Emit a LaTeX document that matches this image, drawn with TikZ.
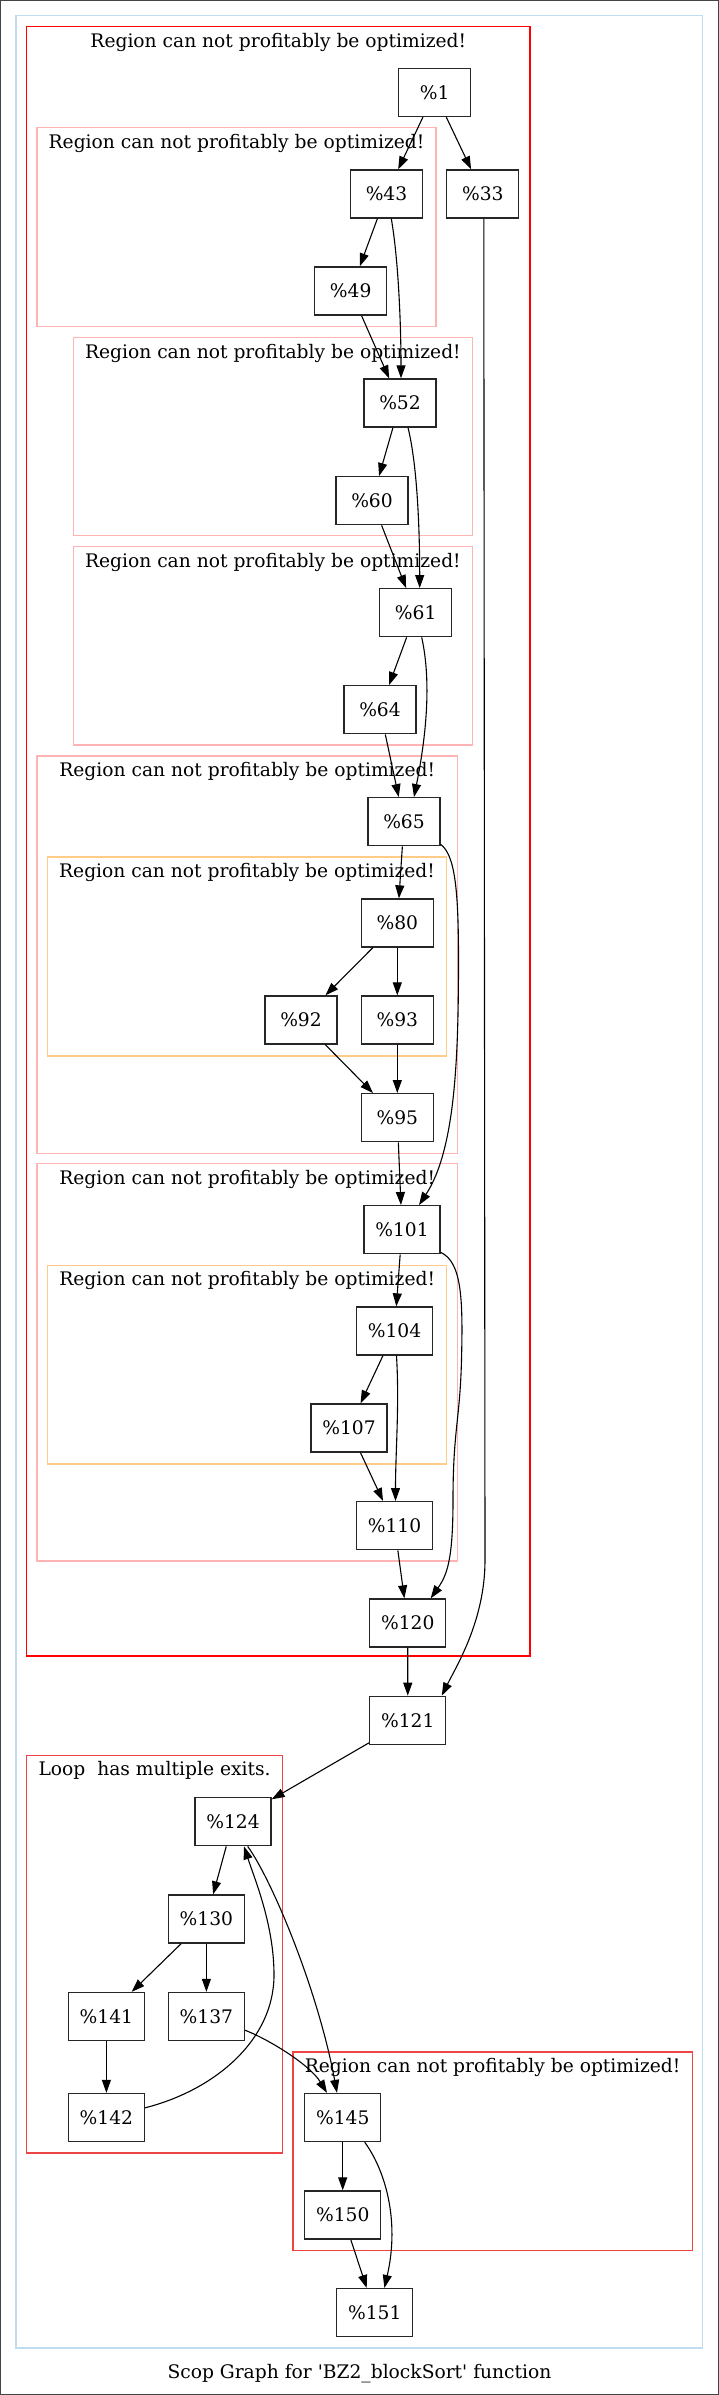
\documentclass[tikz,border=0pt]{standalone}
\usepackage{fontspec}
\setmainfont{DejaVu Serif}
\usetikzlibrary{arrows.meta}
\definecolor{cblue}{HTML}{BFDDEE}
\definecolor{cred}{HTML}{FF0000}
\definecolor{cpink}{HTML}{FFB3B3}
\definecolor{corange}{HTML}{FFCC88}
\definecolor{cred2}{HTML}{EE4444}
\definecolor{frame}{HTML}{444444}
\newcommand\gvfont{\fontsize{18.67}{22}\selectfont}
\begin{document}
\begin{tikzpicture}[x=1pt,y=-1pt,
  box/.style={draw=black!85, line width=1.33pt, minimum width=72pt, minimum height=48pt, inner sep=0pt, font=\gvfont},
  wbox/.style={box, minimum width=76pt},
  clu/.style={line width=1.1pt},
  ttl/.style={anchor=base, font=\gvfont, inner sep=0pt},
  e/.style={line width=1.1pt, -{Triangle[length=13pt,width=9pt]}}]
\useasboundingbox (0,0) rectangle (719,2395);
\draw[frame, line width=1.3pt] (0.65,0.65) rectangle (718.35,2394.35);
% clusters
\draw[clu, cblue] (16,15.7) rectangle (702.7,2348);
\draw[clu, cred] (26.6,26.7) rectangle (530,1656);
\draw[clu, cpink] (37,127.3) rectangle (436,326.7);
\draw[clu, cpink] (73.4,337.3) rectangle (472.3,535.7);
\draw[clu, cpink] (73.4,546.7) rectangle (472.3,745);
\draw[clu, cpink] (37,756) rectangle (457.3,1153.3);
\draw[clu, corange] (47.7,857) rectangle (446.3,1056);
\draw[clu, cpink] (37,1163.7) rectangle (457.3,1561);
\draw[clu, corange] (47.7,1265.3) rectangle (446.7,1464);
\draw[clu, cred2] (26.6,1755.4) rectangle (282.6,2153);
\draw[clu, cred2] (293,2052) rectangle (692.2,2250.5);
% titles
\node[ttl] (t1) at (278.3,47.5) {Region can not profitably be optimized!};
\node[ttl] (t2) at (236.5,148) {Region can not profitably be optimized!};
\node[ttl] (t3) at (272.9,358) {Region can not profitably be optimized!};
\node[ttl] (t4) at (272.9,567.2) {Region can not profitably be optimized!};
\node[ttl] (t5) at (247.2,776.5) {Region can not profitably be optimized!};
\node[ttl] (t6) at (247,877.5) {Region can not profitably be optimized!};
\node[ttl] (t7) at (247.2,1184.2) {Region can not profitably be optimized!};
\node[ttl] (t8) at (247.2,1285.8) {Region can not profitably be optimized!};
\node[ttl] (t9) at (154.6,1775.5) {Loop\ \ has multiple exits.};
\node[ttl] (t10) at (492.6,2072.5) {Region can not profitably be optimized!};
\node[ttl] (cap) at (359.5,2378) {Scop Graph for \textquotesingle BZ2\_blockSort\textquotesingle{} function};
% nodes
\node[box] (n1) at (434.6,92.5) {\%1};
\node[box] (n43) at (386.5,194) {\%43};
\node[box] (n33) at (482.8,194) {\%33};
\node[box] (n49) at (350.7,291) {\%49};
\node[box] (n52) at (400,403) {\%52};
\node[box] (n60) at (372,500.7) {\%60};
\node[box] (n61) at (415.7,612.7) {\%61};
\node[box] (n64) at (380,709.7) {\%64};
\node[box] (n65) at (404,821.7) {\%65};
\node[box] (n80) at (397.3,923) {\%80};
\node[box] (n92) at (301,1020) {\%92};
\node[box] (n93) at (397.3,1020) {\%93};
\node[box] (n95) at (397.3,1117.7) {\%95};
\node[wbox] (n101) at (402,1229.7) {\%101};
\node[wbox] (n104) at (394.5,1331) {\%104};
\node[wbox] (n107) at (349,1428) {\%107};
\node[wbox] (n110) at (394.5,1525.7) {\%110};
\node[wbox] (n120) at (407.7,1623) {\%120};
\node[wbox] (n121) at (407.8,1720.3) {\%121};
\node[wbox] (n124) at (233,1821.7) {\%124};
\node[wbox] (n130) at (206.4,1919) {\%130};
\node[wbox] (n141) at (106.4,2016.5) {\%141};
\node[wbox] (n137) at (206.4,2016.5) {\%137};
\node[wbox] (n142) at (106.4,2117.5) {\%142};
\node[wbox] (n145) at (342.7,2117.5) {\%145};
\node[wbox] (n150) at (342.7,2215) {\%150};
\node[wbox] (n151) at (374.8,2312.6) {\%151};
% edges
\draw[e] (n1) -- (n43);
\draw[e] (n1) -- (n33);
\draw[e] (n43) -- (n49);
\draw[e] ([xshift=4.8pt]n43.south) .. controls +(7,40) and +(0,-55) .. ([xshift=1pt]n52.north);
\draw[e] (n49) -- (n52);
\draw[e] (n52) -- (n60);
\draw[e] ([xshift=8pt]n52.south) .. controls +(10,40) and +(0,-50) .. ([xshift=4pt]n61.north);
\draw[e] (n60) -- (n61);
\draw[e] (n61) -- (n64);
\draw[e] ([xshift=6pt]n61.south) .. controls +(10,45) and +(12,-60) .. ([xshift=10pt]n65.north);
\draw[e] (n64) -- (n65);
\draw[e] (n65) -- (n80);
\draw[e] ([yshift=2pt]n65.south east) .. controls (455,855) and (458.5,890) .. (458.5,960) .. controls (458.5,1060) and (455,1150) .. ([xshift=17pt]n101.north);
\draw[e] (n80) -- (n92);
\draw[e] (n80) -- (n93);
\draw[e] (n92) -- (n95);
\draw[e] (n93) -- (n95);
\draw[e] (n95) -- (n101);
\draw[e] (n101) -- (n104);
\draw[e] ([yshift=2pt]n101.south east) .. controls (462,1262) and (463,1300) .. (461.5,1360) .. controls (460,1420) and (453,1430) .. (453,1500) .. controls (453,1560) and (447,1575) .. ([xshift=23pt]n120.north);
\draw[e] (n104) -- (n107);
\draw[e] ([xshift=2pt]n104.south) .. controls +(3,50) and +(0,-50) .. ([xshift=1pt]n110.north);
\draw[e] (n107) -- (n110);
\draw[e] (n110) -- (n120);
\draw[e] (n120) -- (n121);
\draw[e] ([xshift=1pt]n33.south) -- (485,1560) .. controls (485,1620) and (457,1665) .. ([xshift=34pt]n121.north);
\draw[e] (n121) -- (n124);
\draw[e] (n124) -- (n130);
\draw[e] ([xshift=14.7pt]n124.south) .. controls (272,1880) and (318,1990) .. ([xshift=-5.7pt]n145.north);
\draw[e] ([yshift=9.7pt]n142.east) .. controls (215,2090) and (274,2040) .. (274,1975) .. controls (274,1925) and (255,1880) .. ([xshift=11pt]n124.south);
\draw[e] (n130) -- (n141);
\draw[e] (n130) -- (n137);
\draw[e] (n141) -- (n142);
\draw[e] ([yshift=-13.7pt]n137.east) .. controls (270,2040) and (310,2065) .. ([xshift=-15.7pt]n145.north);
\draw[e] (n145) -- (n150);
\draw[e] ([xshift=22pt]n145.south) .. controls (385,2170) and (400,2220) .. ([xshift=9.6pt]n151.north);
\draw[e] (n150) -- (n151);
\end{tikzpicture}
\end{document}
